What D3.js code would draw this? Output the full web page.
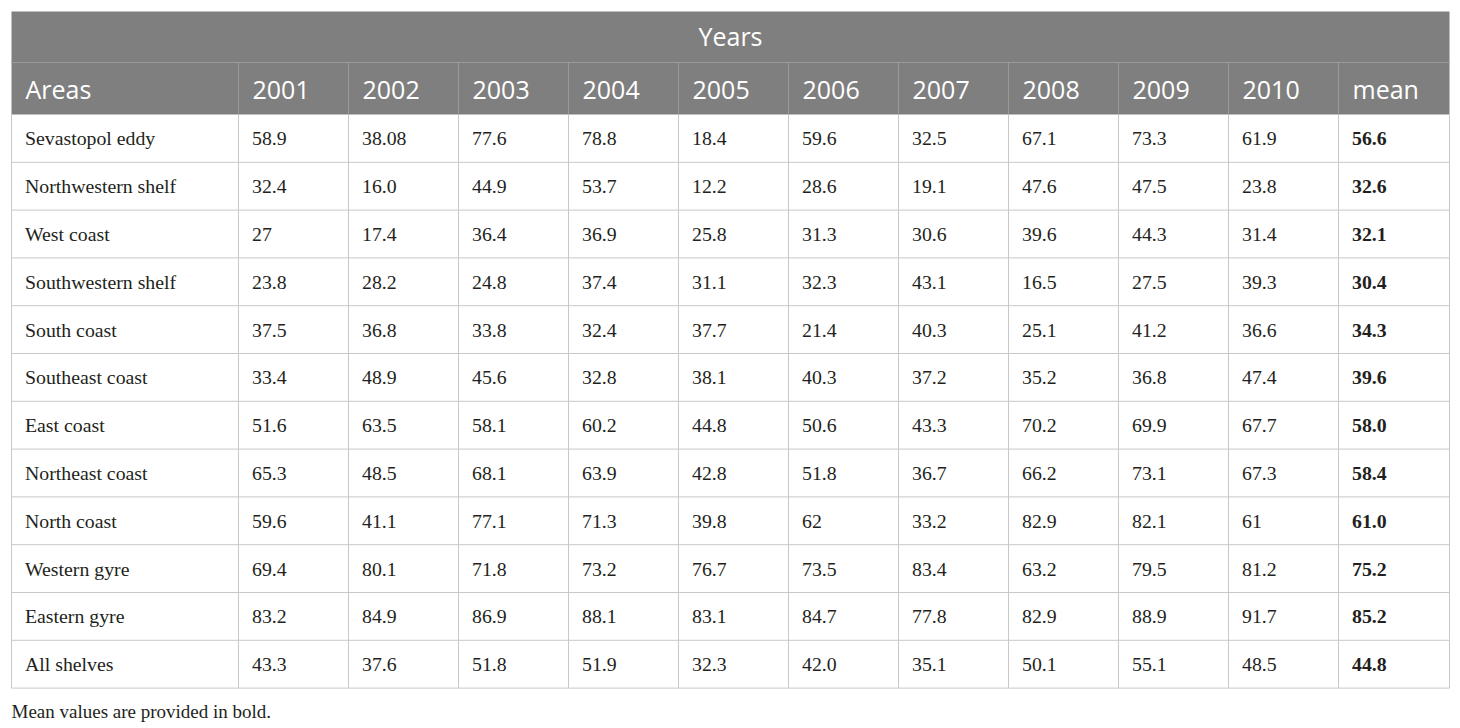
<!DOCTYPE html>
<html>
<head>
<meta charset="utf-8">
<script src="https://cdn.jsdelivr.net/npm/d3@7"></script>
<style>
  body { margin: 0; background: #fff; }
</style>
</head>
<body>
<script>
// table data
var areas = ["Sevastopol eddy", "Northwestern shelf", "West coast", "Southwestern shelf",
  "South coast", "Southeast coast", "East coast", "Northeast coast", "North coast",
  "Western gyre", "Eastern gyre", "All shelves"];

var years = ["2001", "2002", "2003", "2004", "2005", "2006", "2007", "2008", "2009", "2010"];

// one array per row, kept as text so "16.0" and "27" print as in the source
var sevastopol   = ["58.9", "38.08", "77.6", "78.8", "18.4", "59.6", "32.5", "67.1", "73.3", "61.9"];
var nwShelf      = ["32.4", "16.0", "44.9", "53.7", "12.2", "28.6", "19.1", "47.6", "47.5", "23.8"];
var westCoast    = ["27", "17.4", "36.4", "36.9", "25.8", "31.3", "30.6", "39.6", "44.3", "31.4"];
var swShelf      = ["23.8", "28.2", "24.8", "37.4", "31.1", "32.3", "43.1", "16.5", "27.5", "39.3"];
var southCoast   = ["37.5", "36.8", "33.8", "32.4", "37.7", "21.4", "40.3", "25.1", "41.2", "36.6"];
var seCoast      = ["33.4", "48.9", "45.6", "32.8", "38.1", "40.3", "37.2", "35.2", "36.8", "47.4"];
var eastCoast    = ["51.6", "63.5", "58.1", "60.2", "44.8", "50.6", "43.3", "70.2", "69.9", "67.7"];
var neCoast      = ["65.3", "48.5", "68.1", "63.9", "42.8", "51.8", "36.7", "66.2", "73.1", "67.3"];
var northCoast   = ["59.6", "41.1", "77.1", "71.3", "39.8", "62", "33.2", "82.9", "82.1", "61"];
var westernGyre  = ["69.4", "80.1", "71.8", "73.2", "76.7", "73.5", "83.4", "63.2", "79.5", "81.2"];
var easternGyre  = ["83.2", "84.9", "86.9", "88.1", "83.1", "84.7", "77.8", "82.9", "88.9", "91.7"];
var allShelves   = ["43.3", "37.6", "51.8", "51.9", "32.3", "42.0", "35.1", "50.1", "55.1", "48.5"];

var means = ["56.6", "32.6", "32.1", "30.4", "34.3", "39.6", "58.0", "58.4", "61.0", "75.2", "85.2", "44.8"];

var values = [sevastopol, nwShelf, westCoast, swShelf, southCoast, seCoast, eastCoast,
  neCoast, northCoast, westernGyre, easternGyre, allShelves];

var W = 1460, H = 728;
var tLeft = 11.5, tRight = 1449.5, tTop = 11.5;
var firstCol = 227, colW = 110;
var yearsH = 51, headH = 52, rowH = 47.8;

var headBg = "#7f7f7f";
var gridColor = "#c8c8c8";
var textColor = "#231f20";

var svg = d3.select("body").append("svg")
  .attr("width", W)
  .attr("height", H);

var columns = ["Areas"].concat(years).concat(["mean"]);

// column x positions
var colX = function(i) {
  return i === 0 ? tLeft : tLeft + firstCol + (i - 1) * colW;
};

var headTop = tTop + yearsH;
var bodyTop = headTop + headH;

var y = d3.scaleBand()
  .domain(areas)
  .range([bodyTop, bodyTop + rowH * areas.length]);

// header background
svg.append("rect")
  .attr("x", tLeft).attr("y", tTop)
  .attr("width", tRight - tLeft).attr("height", yearsH + headH)
  .style("fill", headBg);

// header borders
svg.append("line")
  .attr("x1", tLeft).attr("x2", tRight)
  .attr("y1", headTop).attr("y2", headTop)
  .style("stroke", "#9a9a9a").style("stroke-width", 1);

svg.selectAll("line.hsep")
  .data(columns.slice(1))
  .enter()
  .append("line")
  .attr("class", "hsep")
  .attr("x1", function(d, i) { return colX(i + 1); })
  .attr("x2", function(d, i) { return colX(i + 1); })
  .attr("y1", headTop)
  .attr("y2", bodyTop)
  .style("stroke", "#9a9a9a");

svg.append("text")
  .attr("x", (tLeft + tRight) / 2)
  .attr("y", tTop + yearsH / 2 - 1)
  .attr("text-anchor", "middle")
  .attr("dominant-baseline", "central")
  .style("font-family", "'Open Sans', 'Noto Sans', sans-serif")
  .style("font-size", "25px")
  .style("fill", "#fff")
  .text("Years");

svg.selectAll("text.colhead")
  .data(columns)
  .enter()
  .append("text")
  .attr("class", "colhead")
  .attr("x", function(d, i) { return colX(i) + 14; })
  .attr("y", headTop + headH / 2)
  .attr("dominant-baseline", "central")
  .style("font-family", "'Open Sans', 'Noto Sans', sans-serif")
  .style("font-size", "25px")
  .style("fill", "#fff")
  .text(function(d) { return d; });

// body grid
svg.selectAll("line.rowline")
  .data(areas)
  .enter()
  .append("line")
  .attr("class", "rowline")
  .attr("x1", tLeft).attr("x2", tRight)
  .attr("y1", function(d) { return y(d) + y.bandwidth(); })
  .attr("y2", function(d) { return y(d) + y.bandwidth(); })
  .style("stroke", gridColor);

svg.selectAll("line.colline")
  .data(d3.range(columns.length + 1))
  .enter()
  .append("line")
  .attr("class", "colline")
  .attr("x1", function(i) { return i === columns.length ? tRight : colX(i); })
  .attr("x2", function(i) { return i === columns.length ? tRight : colX(i); })
  .attr("y1", bodyTop)
  .attr("y2", bodyTop + rowH * areas.length)
  .style("stroke", gridColor);

// rows
var rows = svg.selectAll("g.row")
  .data(areas)
  .enter()
  .append("g")
  .attr("class", "row")
  .attr("transform", function(d) { return "translate(0," + (y(d) + y.bandwidth() / 2) + ")"; });

rows.each(function(area, r) {
  var cells = [area].concat(values[r]).concat([means[r]]);
  d3.select(this).selectAll("text")
    .data(cells)
    .enter()
    .append("text")
    .attr("x", function(d, i) { return colX(i) + 13.5; })
    .attr("dominant-baseline", "central")
    .style("font-family", "'Liberation Serif', 'DejaVu Serif', serif")
    .style("font-size", "19.8px")
    .style("font-weight", function(d, i) { return i === cells.length - 1 ? "bold" : "normal"; })
    .style("fill", textColor)
    .text(function(d) { return d; });
});

// footnote
svg.append("text")
  .attr("x", tLeft)
  .attr("y", 718)
  .style("font-family", "'Liberation Serif', 'DejaVu Serif', serif")
  .style("font-size", "19px")
  .style("fill", textColor)
  .text("Mean values are provided in bold.");
</script>
</body>
</html>
